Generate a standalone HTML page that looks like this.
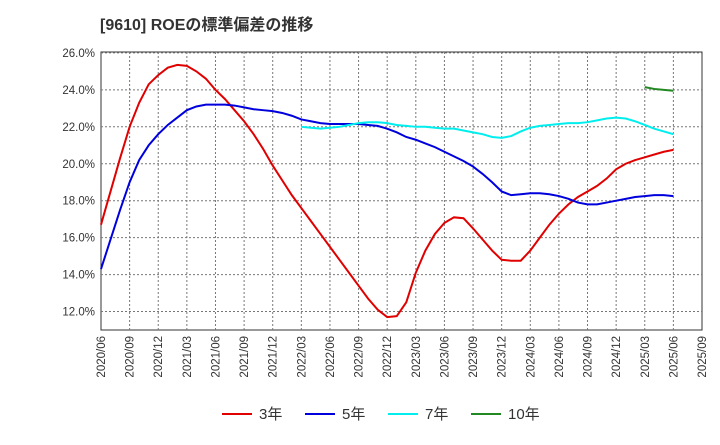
<!DOCTYPE html>
<html><head><meta charset="utf-8"><style>
body{margin:0;background:#fff;font-family:"Liberation Sans","Noto Sans CJK JP",sans-serif;}
</style></head><body>
<svg id="c" width="720" height="440" xmlns="http://www.w3.org/2000/svg">
<text x="100" y="30" font-size="16" font-weight="bold" fill="#333">[9610]  ROEの標準偏差の推移</text>
</svg>
<script>
const xTicks=["2020/06","2020/09","2020/12","2021/03","2021/06","2021/09","2021/12","2022/03","2022/06","2022/09","2022/12","2023/03","2023/06","2023/09","2023/12","2024/03","2024/06","2024/09","2024/12","2025/03","2025/06","2025/09"];
const yTicks=[12,14,16,18,20,22,24,26];
const s3=[16.7,18.5,20.3,22.0,23.3,24.3,24.8,25.2,25.35,25.3,25.0,24.6,24.0,23.5,22.9,22.3,21.6,20.8,19.9,19.1,18.3,17.6,16.9,16.2,15.5,14.8,14.1,13.4,12.7,12.1,11.7,11.75,12.5,14.1,15.3,16.2,16.8,17.1,17.05,16.5,15.9,15.3,14.8,14.75,14.75,15.3,16.0,16.7,17.3,17.8,18.2,18.5,18.8,19.2,19.7,20.0,20.2,20.35,20.5,20.65,20.75];
const s5=[14.3,15.9,17.5,19.0,20.2,21.0,21.6,22.1,22.5,22.9,23.1,23.2,23.2,23.2,23.15,23.05,22.95,22.9,22.85,22.75,22.6,22.4,22.3,22.2,22.15,22.15,22.15,22.15,22.1,22.05,21.9,21.7,21.45,21.3,21.1,20.9,20.65,20.4,20.15,19.85,19.45,19.0,18.5,18.3,18.35,18.4,18.4,18.35,18.25,18.1,17.9,17.8,17.8,17.9,18.0,18.1,18.2,18.25,18.3,18.3,18.25];
const s7=[22.0,21.95,21.9,21.95,22.0,22.1,22.2,22.25,22.25,22.2,22.1,22.05,22.0,22.0,21.95,21.9,21.9,21.8,21.7,21.6,21.45,21.4,21.5,21.75,21.95,22.05,22.1,22.15,22.2,22.2,22.25,22.35,22.45,22.5,22.45,22.3,22.1,21.9,21.75,21.6];
const s10=[24.15,24.05,24.0,23.95];
const start7=21, start10=57;
const svg=document.getElementById('c');const NS='http://www.w3.org/2000/svg';
const L=101,R=702,T=52,B=330,yMin=11,yMax=26.05;
const xm=i=>L+(R-L)*i/63;
const y=v=>B-(v-yMin)/(yMax-yMin)*(B-T);
function mk(t,a){const e=document.createElementNS(NS,t);for(const k in a)e.setAttribute(k,a[k]);svg.appendChild(e);return e;}
let bg=mk('rect',{x:L,y:T,width:R-L,height:B-T,fill:'#fff',stroke:'#333'});


yTicks.forEach(v=>{let g=mk('line',{x1:L,x2:R,y1:y(v),y2:y(v),stroke:'#777','stroke-dasharray':'2,2'});


let t=mk('text',{x:L-6,y:y(v)+4,'text-anchor':'end','font-size':11.5,fill:'#333'});t.textContent=v.toFixed(1)+'%';

});
xTicks.forEach((lab,i)=>{const x=xm(i*3);
if(i>0&&i<xTicks.length-1){let g=mk('line',{x1:x,x2:x,y1:T,y2:B,stroke:'#777','stroke-dasharray':'2,2'});

}
let t=mk('text',{x:0,y:0,'text-anchor':'end','font-size':11.5,fill:'#333',transform:`translate(${x+4},${B+6}) rotate(-90)`});t.textContent=lab;

});
function line(d,s,c,n){const p=mk('polyline',{points:d.map((v,i)=>xm(i+s)+','+y(v)).join(' '),fill:'none',stroke:c,'stroke-width':2});

}
line(s3,0,'#e00000','line-3y');line(s5,0,'#0000dd','line-5y');line(s7,start7,'#00eeee','line-7y');line(s10,start10,'#228822','line-10y');
[['3年','#e00000',222],['5年','#0000dd',305],['7年','#00eeee',388],['10年','#228822',471]].forEach(([n,c,x])=>{
let l=mk('line',{x1:x,x2:x+30,y1:414,y2:414,stroke:c,'stroke-width':2});


let t=mk('text',{x:x+37,y:419,'font-size':15,fill:'#333'});t.textContent=n;

});
</script>
</body></html>
